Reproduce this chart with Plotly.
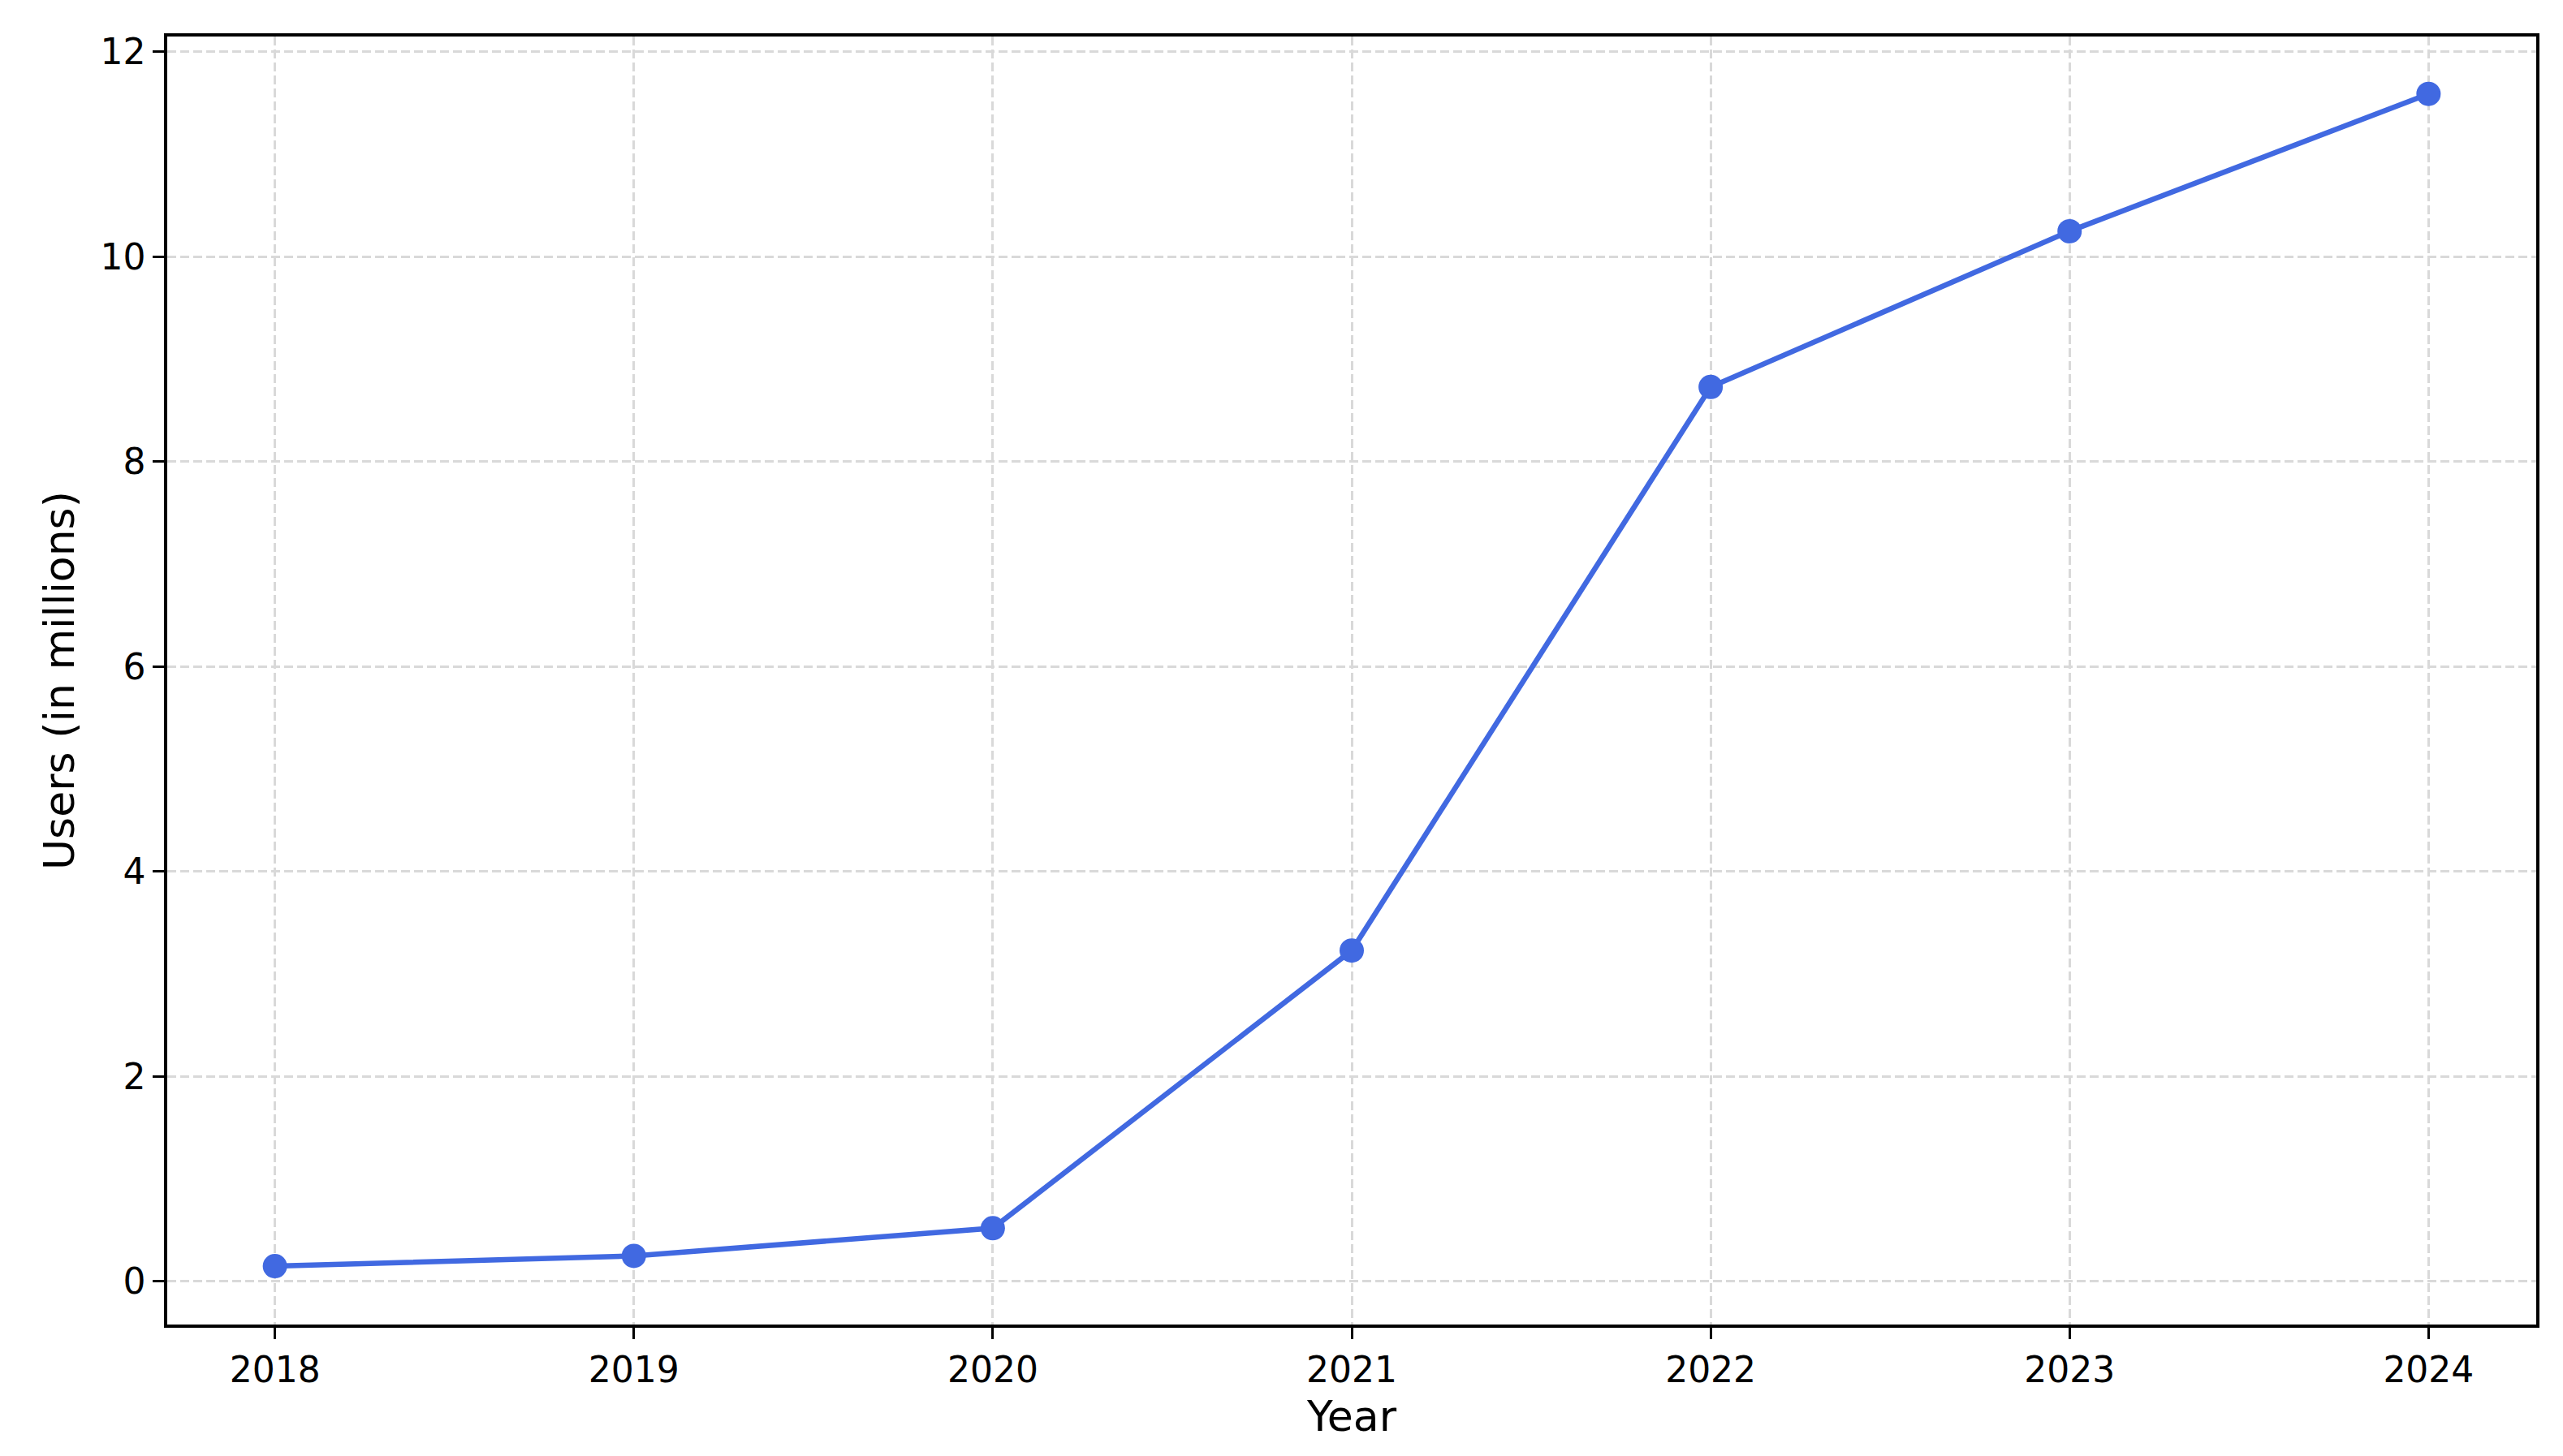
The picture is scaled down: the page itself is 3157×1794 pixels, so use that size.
import plotly.graph_objects as go

years = [2018, 2019, 2020, 2021, 2022, 2023, 2024]
users = [0.15, 0.25, 0.52, 3.23, 8.73, 10.25, 11.59]
x_title = "Year"
y_title = "Users (in millions)"

fig = go.Figure()
fig.add_trace(go.Scatter(
    x=years, y=users, mode="lines+markers",
    line=dict(color="#4169E1", width=6.5),
    marker=dict(color="#4169E1", size=30),
    showlegend=False,
))

axis_common = dict(
    showline=True, linecolor="black", linewidth=3.5, mirror=True,
    ticks="outside", ticklen=14, tickwidth=3, tickcolor="black",
    showgrid=True, gridcolor="#d9d9d9", gridwidth=3, griddash="11px,5px",
    zeroline=False,
    tickfont=dict(family="DejaVu Sans", size=44, color="black"),
)

fig.update_xaxes(
    **axis_common,
    range=[2017.7, 2024.3], tickmode="array", tickvals=years,
    ticktext=[str(y) for y in years],
    title=dict(text=x_title, font=dict(family="DejaVu Sans", size=52, color="black"), standoff=16),
)
fig.update_yaxes(
    **axis_common,
    range=[-0.42, 12.15], tickmode="array", tickvals=[0, 2, 4, 6, 8, 10, 12],
    title=dict(text=y_title, font=dict(family="DejaVu Sans", size=52, color="black"), standoff=16),
)

fig.update_layout(
    width=3141, height=1778,
    margin=dict(l=198, r=25, t=37, b=154),
    plot_bgcolor="white", paper_bgcolor="white",
)

fig.write_html("out.html")
